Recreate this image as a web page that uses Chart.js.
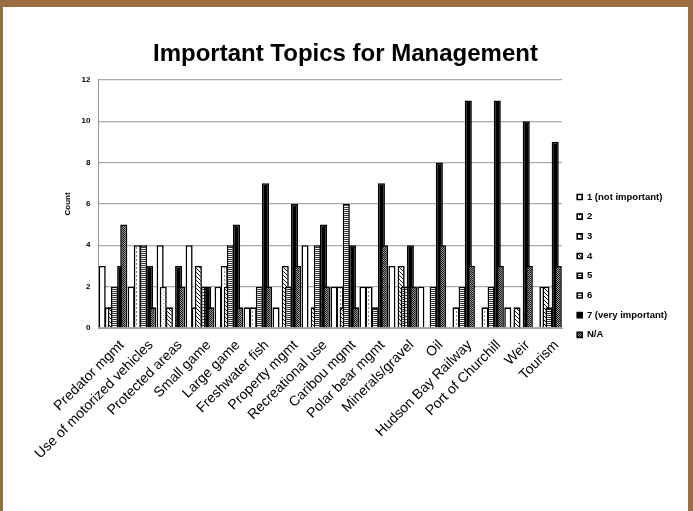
<!DOCTYPE html>
<html>
<head>
<meta charset="utf-8">
<script src="https://cdn.jsdelivr.net/npm/chart.js@4/dist/chart.umd.min.js"></script>
<style>
  html, body { margin: 0; padding: 0; background: #9b6d40; }
  #frame { position: absolute; left: 0; top: 0; width: 693px; height: 511px; background: #9b6d40; overflow: hidden; }
  #wrap { position: absolute; left: 3px; top: 7px; width: 685px; height: 504px; background: #ffffff; }
  canvas { display: block; }
</style>
</head>
<body>
<div id="frame"><div id="wrap"><canvas id="c" width="685" height="504"></canvas></div></div>
<script>
const categories = ['Predator mgmt', 'Use of motorized vehicles', 'Protected areas', 'Small game', 'Large game',
  'Freshwater fish', 'Property mgmt', 'Recreational use', 'Caribou mgmt', 'Polar bear mgmt',
  'Minerals/gravel', 'Oil', 'Hudson Bay Railway', 'Port of Churchill', 'Weir', 'Tourism'];
const seriesNames = ['1 (not important)', '2', '3', '4', '5', '6', '7 (very important)', 'N/A'];
const yTicks = [0, 2, 4, 6, 8, 10, 12];

const s1 = [3, 2, 4, 4, 2, 1, 1, 4, 2, 2, 3, 2, 0, 0, 1, 0];
const s2 = [0, 0, 2, 0, 0, 0, 0, 0, 0, 0, 0, 0, 0, 0, 0, 0];
const s3 = [1, 4, 0, 1, 3, 1, 0, 0, 2, 2, 0, 0, 1, 1, 0, 2];
const s4 = [1, 0, 1, 3, 2, 0, 3, 1, 1, 0, 3, 0, 0, 0, 1, 2];
const s5 = [2, 4, 0, 0, 4, 2, 2, 4, 6, 1, 2, 2, 2, 2, 0, 1];
const s6 = [0, 0, 0, 2, 0, 0, 0, 0, 0, 0, 2, 0, 0, 0, 0, 0];
const s7 = [3, 3, 3, 2, 5, 7, 6, 5, 4, 7, 4, 8, 11, 11, 10, 9];
const s8 = [5, 1, 2, 1, 1, 2, 3, 2, 1, 4, 2, 4, 3, 3, 3, 3];
const seriesValues = [s1, s2, s3, s4, s5, s6, s7, s8];

const canvas = document.getElementById('c');
const ctx = canvas.getContext('2d');

function makePattern(size, bg, draw) {
  const c = document.createElement('canvas');
  c.width = size; c.height = size;
  const x = c.getContext('2d');
  x.fillStyle = bg;
  x.fillRect(0, 0, size, size);
  draw(x);
  return ctx.createPattern(c, 'repeat');
}
const fills = [
  '#ffffff',
  makePattern(4, '#ffffff', x => { x.fillStyle = '#8a8a8a'; x.fillRect(0, 0, 1, 1); x.fillRect(2, 2, 1, 1); }),
  makePattern(4, '#ffffff', x => { x.fillStyle = '#8c8c8c'; x.fillRect(1, 0, 1, 2); }),
  makePattern(4, '#ffffff', x => { x.fillStyle = '#111'; for (let i = 0; i < 4; i++) x.fillRect(i, i, 1, 1); }),
  makePattern(2, '#ffffff', x => { x.fillStyle = '#2a2a2a'; x.fillRect(0, 0, 2, 1); }),
  makePattern(3, '#ffffff', x => { x.fillStyle = '#444'; x.fillRect(0, 0, 3, 1); }),
  '#000000',
  makePattern(2, '#9a9a9a', x => { x.fillStyle = '#111'; x.fillRect(0, 0, 1, 1); x.fillRect(1, 1, 1, 1); })
];

const FONT = '"Liberation Sans", Arial, sans-serif';

// Draw series in order so later series overlap earlier ones (as in the original)
const forwardOrder = {
  id: 'forwardOrder',
  beforeDatasetsDraw(chart) {
    const a = chart.chartArea;
    const c = chart.ctx;
    c.save();
    c.beginPath();
    c.rect(a.left, a.top - 1, a.right - a.left, a.bottom - a.top + 1);
    c.clip();
    for (let i = 0; i < chart.data.datasets.length; i++) {
      const meta = chart.getDatasetMeta(i);
      if (!meta.hidden) meta.controller.draw();
    }
    c.restore();
    return false;
  }
};

// Place the legend where it sits in the original
const legendPlace = {
  id: 'legendPlace',
  afterLayout(chart) {
    const lg = chart.legend;
    if (!lg) return;
    lg.left = 564;
    lg.right = lg.left + lg.width;
    lg.top = 175;
    lg.bottom = lg.top + lg.height;
  }
};

new Chart(canvas, {
  type: 'bar',
  data: {
    labels: categories,
    datasets: seriesValues.map((vals, i) => ({
      label: seriesNames[i],
      data: vals,
      backgroundColor: fills[i],
      borderColor: '#000000',
      borderWidth: 1.6,
      categoryPercentage: 0.85,
      barPercentage: 2.3
    }))
  },
  options: {
    responsive: false,
    animation: false,
    layout: { padding: 0 },
    plugins: {
      title: {
        display: true,
        text: 'Important Topics for Management',
        color: '#000',
        font: { family: FONT, size: 24, weight: 'bold' },
        padding: { top: 33, bottom: 11 }
      },
      legend: {
        position: 'chartArea',
        align: 'start',
        labels: {
          color: '#000',
          font: { family: FONT, size: 9.5, weight: 'bold' },
          boxWidth: 5,
          boxHeight: 5,
          padding: 10.2
        }
      },
      tooltip: { enabled: false }
    },
    scales: {
      x: {
        grid: { display: false },
        border: { display: true, color: '#a0a0a0', width: 1 },
        ticks: {
          autoSkip: false,
          maxRotation: 45,
          minRotation: 45,
          labelOffset: 9,
          padding: 1,
          color: '#000',
          font: { family: FONT, size: 14 }
        },
        afterFit(scale) { scale.height = 183; }
      },
      y: {
        min: 0,
        max: 12,
        afterBuildTicks(scale) { scale.ticks = yTicks.map(v => ({ value: v })); },
        grid: { color: '#aaaaaa', lineWidth: 1.3, drawTicks: false },
        border: { display: true, color: '#999999', width: 1 },
        ticks: {
          padding: 8,
          color: '#000',
          font: { family: FONT, size: 8, weight: 'bold' }
        },
        title: {
          display: true,
          text: 'Count',
          color: '#000',
          font: { family: FONT, size: 8, weight: 'bold' },
          padding: { top: 60, bottom: 0 }
        },
        afterFit(scale) { scale.width = 95.5; }
      },
      side: {
        type: 'linear',
        position: 'right',
        display: true,
        grid: { display: false, drawTicks: false },
        border: { display: false },
        ticks: { display: false },
        afterFit(scale) { scale.width = 126; }
      }
    }
  },
  plugins: [forwardOrder, legendPlace]
});
</script>
</body>
</html>
